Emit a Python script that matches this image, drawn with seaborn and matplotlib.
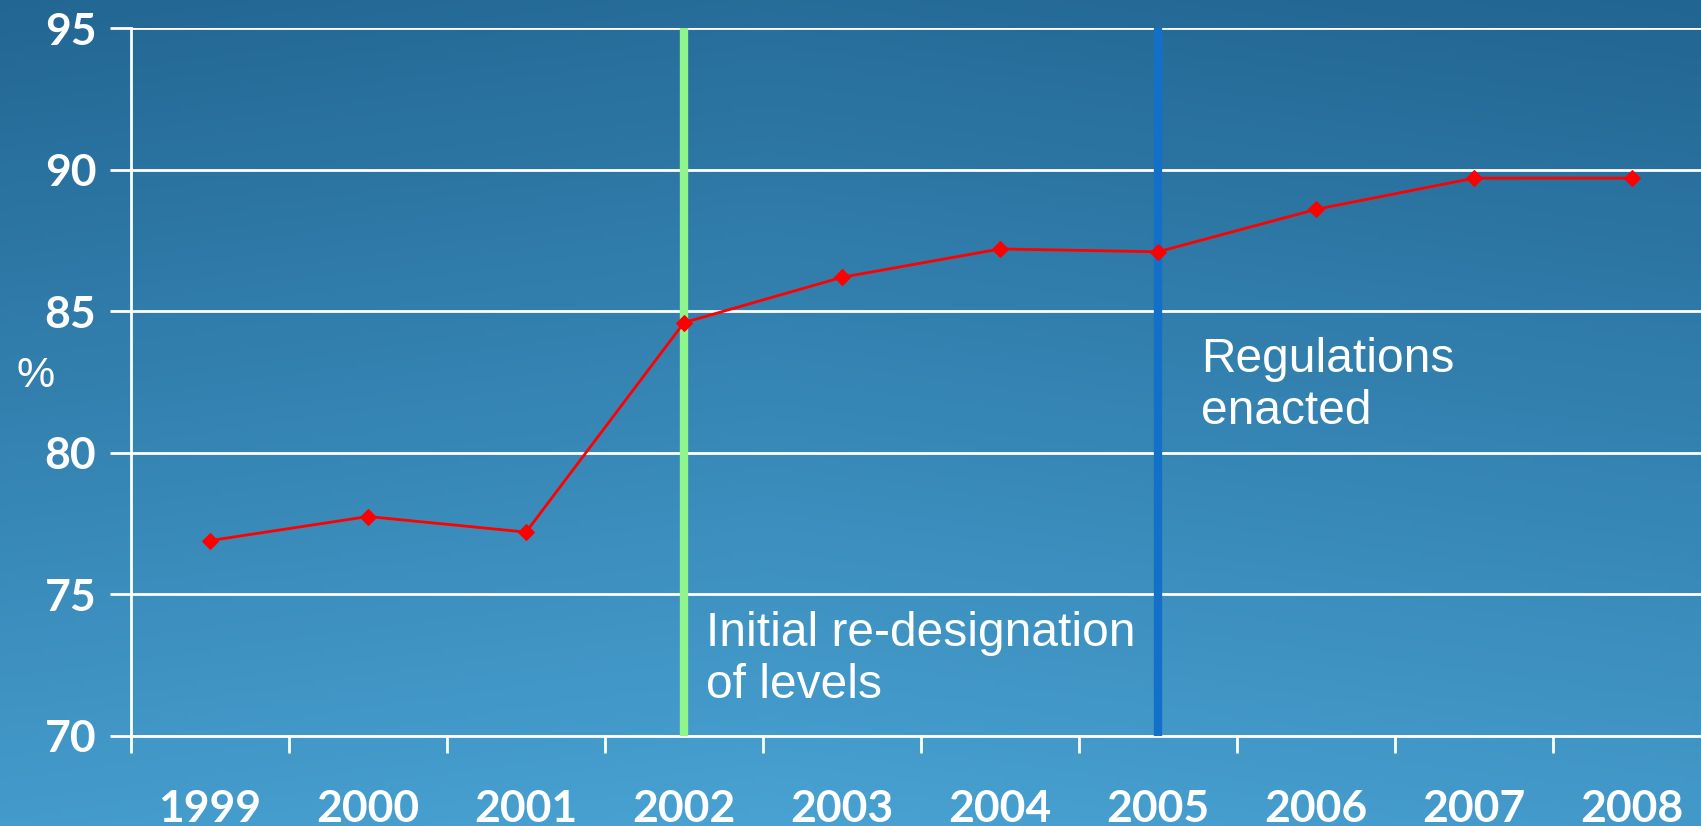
import numpy as np
import pandas as pd
import matplotlib
matplotlib.use("Agg")
import matplotlib.pyplot as plt
import seaborn as sns

# chart data
years = ["1999", "2000", "2001", "2002", "2003", "2004", "2005", "2006", "2007", "2008"]
percent = [76.9, 77.75, 77.2, 84.6, 86.2, 87.2, 87.1, 88.6, 89.7, 89.7]
y_ticks = [70, 75, 80, 85, 90, 95]
events = ["2002", "2005"]
event_labels = ["Initial re-designation\nof levels", "Regulations\nenacted"]

df = pd.DataFrame({"year": years, "pct": percent})

sns.set_style("white")
plt.rcParams["font.family"] = ["Liberation Sans", "DejaVu Sans"]

fig = plt.figure(figsize=(17.01, 8.26), dpi=100)

# gradient background
bg = fig.add_axes([0, 0, 1, 1], zorder=0)
yy, xx = np.mgrid[0:1:200j, 0:1:200j]
t = np.clip(0.85 * yy + 0.15 * (1 - np.abs(xx - 0.45) * 1.6), 0, 1)
top = np.array([33, 100, 145]) / 255
bot = np.array([72, 162, 210]) / 255
img = top[None, None, :] * (1 - t[..., None]) + bot[None, None, :] * t[..., None]
bg.imshow(img, aspect="auto", extent=[0, 1, 1, 0])
bg.axis("off")

ax = fig.add_axes([0.077, 0.109, 0.929, 0.857], zorder=1)
ax.patch.set_alpha(0)

sns.lineplot(data=df, x="year", y="pct", ax=ax, color="red", lw=2,
             marker="D", markersize=8, markeredgecolor="red", zorder=4)

ax.set_ylim(70, 95)
ax.set_xlim(-0.5, 9.5)
ax.set_yticks(y_ticks)
ax.yaxis.grid(True, color="white", lw=2)
ax.set_axisbelow(True)

# category labels at centers, tick marks on boundaries
ax.set_xticks(range(len(years)))
ax.set_xticklabels(years)
ax.set_xticks(np.arange(-0.5, len(years), 1), minor=True)
ax.tick_params(which="both", bottom=True, left=True)
ax.tick_params(axis="x", which="major", length=0, pad=38)
ax.tick_params(axis="x", which="minor", length=12, width=2, color="white", direction="out")
ax.tick_params(axis="y", length=15, width=2, color="white", direction="out", pad=10)
for lab in ax.get_xticklabels() + ax.get_yticklabels():
    lab.set_fontfamily("Lato")
    lab.set_fontweight("bold")
    lab.set_fontsize(32)
    lab.set_color("white")

for s in ["top", "right"]:
    ax.spines[s].set_visible(False)
for s in ["left", "bottom"]:
    ax.spines[s].set_color("white")
    ax.spines[s].set_linewidth(2)

ax.set_xlabel("")
ax.set_ylabel("")

# event markers
ax.axvline(years.index(events[0]), color="#90F58A", lw=6, zorder=3)
ax.axvline(years.index(events[1]), color="#1270C8", lw=6, zorder=3)
ax.text(3.14, 74.4, event_labels[0], color="white", fontsize=34.5, va="top", ha="left",
        linespacing=1.2)
ax.text(6.27, 84.1, event_labels[1], color="white", fontsize=34.5, va="top", ha="left",
        linespacing=1.2)

fig.text(0.021, 0.545, "%", color="white", fontsize=31, ha="center", va="center")

fig.savefig("out.png", dpi=100)
